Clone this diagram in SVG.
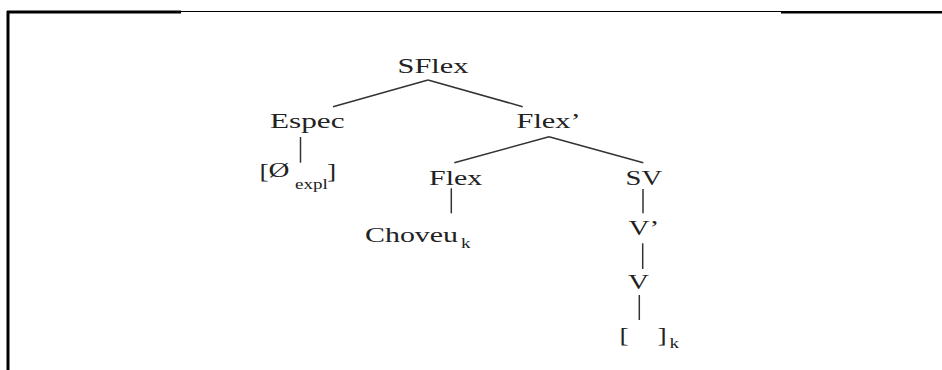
<svg xmlns="http://www.w3.org/2000/svg" width="942" height="370" viewBox="0 0 942 370">
  <style>
    text { font-family: "Liberation Serif", "Times New Roman", serif; fill: #222; }
    .lbl { font-size: 22px; }
    .sub { font-size: 14px; }
    .br { font-size: 20px; }
    .edge { stroke: #333; stroke-width: 1.5; fill: none; }
    .frame { stroke: #000; fill: none; }
  </style>
  <rect width="942" height="370" fill="#fff"/>

  <!-- frame -->
  <g id="frame">
    <line class="frame" x1="7" y1="12" x2="181" y2="12" stroke-width="3"/>
    <line class="frame" x1="181" y1="11.5" x2="781" y2="11.5" stroke-width="1"/>
    <line class="frame" x1="781" y1="12.3" x2="942" y2="12.3" stroke-width="2.5"/>
    <line class="frame" x1="8" y1="11" x2="8" y2="370" stroke-width="3"/>
  </g>

  <!-- tree branches -->
  <g id="edges">
    <line class="edge" x1="428" y1="80" x2="333" y2="106.7"/>
    <line class="edge" x1="428" y1="80" x2="522.7" y2="106.7"/>
    <line class="edge" x1="300.5" y1="137" x2="300.5" y2="162.7"/>
    <line class="edge" x1="549" y1="136.7" x2="454.3" y2="162.7"/>
    <line class="edge" x1="549" y1="136.7" x2="643.3" y2="162.7"/>
    <line class="edge" x1="451.3" y1="188.3" x2="451.3" y2="213.3"/>
    <line class="edge" x1="643" y1="189" x2="643" y2="213.3"/>
    <line class="edge" x1="642.7" y1="243.3" x2="642.7" y2="269"/>
    <line class="edge" x1="639.3" y1="295" x2="639.3" y2="320"/>
  </g>

  <!-- labels are set in a horizontally widened serif -->
  <g id="n-sflex"><text class="lbl" transform="translate(397.5 73) scale(1.38 1)">SFlex</text></g>
  <g id="n-espec"><text class="lbl" transform="translate(270 128) scale(1.42 1)">Espec</text></g>
  <g id="n-flexbar"><text class="lbl" transform="translate(516.5 128) scale(1.38 1)">Flex’</text></g>
  <g id="n-expl">
    <text class="br" transform="translate(259.5 178) scale(1.38 1)">[</text>
    <text class="lbl" transform="translate(268.5 177) scale(1.32 1)">Ø</text>
    <text class="sub" transform="translate(295 189) scale(1.36 1)">expl</text>
    <text class="br" transform="translate(327 178) scale(1.38 1)">]</text>
  </g>
  <g id="n-flex"><text class="lbl" transform="translate(429 185) scale(1.36 1)">Flex</text></g>
  <g id="n-sv"><text class="lbl" transform="translate(625.5 185) scale(1.3 1)">SV</text></g>
  <g id="n-choveu">
    <text class="lbl" transform="translate(365 242) scale(1.36 1)">Choveu</text>
    <text class="sub" transform="translate(461 248) scale(1.36 1)">k</text>
  </g>
  <g id="n-vbar"><text class="lbl" transform="translate(628.5 235) scale(1.32 1)">V’</text></g>
  <g id="n-v"><text class="lbl" transform="translate(628 289) scale(1.32 1)">V</text></g>
  <g id="n-trace">
    <text class="br" transform="translate(619.5 342) scale(1.38 1)">[</text>
    <text class="br" transform="translate(657.5 342) scale(1.38 1)">]</text>
    <text class="sub" transform="translate(669.5 348) scale(1.36 1)">k</text>
  </g>
</svg>
